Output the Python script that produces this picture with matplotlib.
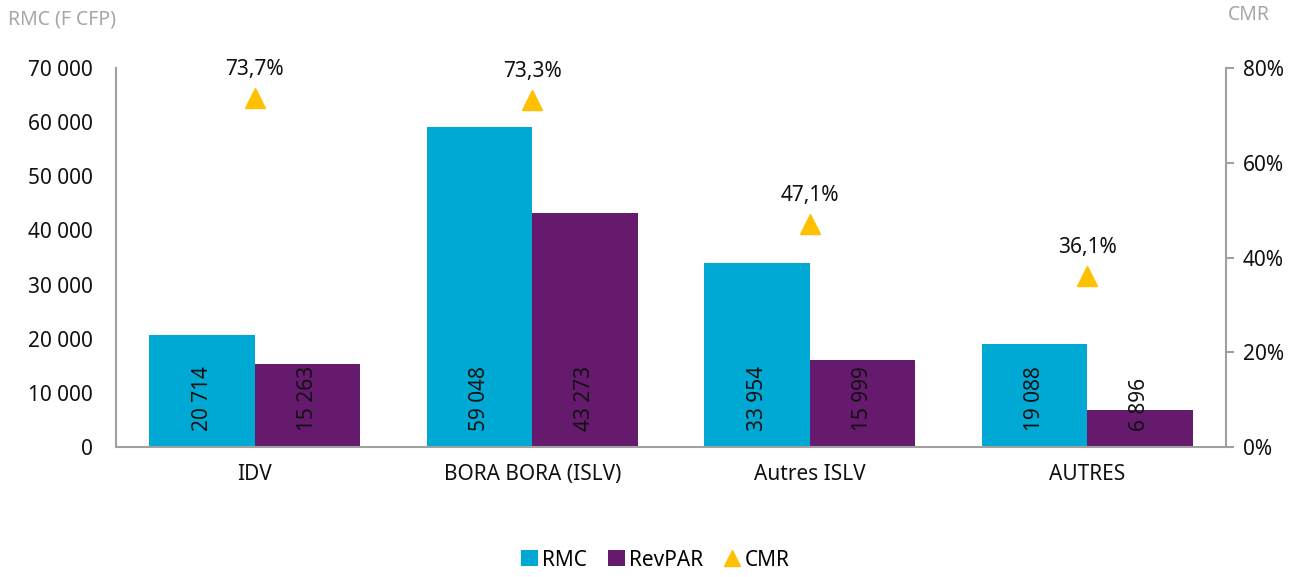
import matplotlib
matplotlib.use("Agg")
import matplotlib.pyplot as plt
import numpy as np
from matplotlib.ticker import FuncFormatter

categories = ["IDV", "BORA BORA (ISLV)", "Autres ISLV", "AUTRES"]
rmc = [20714, 59048, 33954, 19088]
revpar = [15263, 43273, 15999, 6896]
cmr = [73.7, 73.3, 47.1, 36.1]

_RMC = "#00A9D3"
_REV = "#661A6E"
_CMR = "#FFC000"
_AX = "#A0A0A0"
_INK = "#111111"

plt.rcParams["font.family"] = ["Noto Sans", "DejaVu Sans"]


def spaced(v):
    return f"{int(v):,}".replace(",", " ")


fig = plt.figure(figsize=(13.11, 5.77), dpi=100)
ax = fig.add_axes([116 / 1311, 1 - 447 / 577, (1226 - 116) / 1311, (447 - 68) / 577])
x = np.arange(len(categories))
w = 0.38
b1 = ax.bar(x - w / 2, rmc, w, color=_RMC, label="RMC", zorder=2)
b2 = ax.bar(x + w / 2, revpar, w, color=_REV, label="RevPAR", zorder=2)

for bars, vals in ((b1, rmc), (b2, revpar)):
    for r, v in zip(bars, vals):
        ax.text(r.get_x() + r.get_width() / 2, 3000, spaced(v), rotation=90,
                ha="center", va="bottom", fontsize=15, color=_INK, zorder=4)

ax.set_xlim(-0.5, len(categories) - 0.5)
ax.set_ylim(0, 70000)
ax.set_yticks(np.arange(0, 70001, 10000))
ax.yaxis.set_major_formatter(FuncFormatter(lambda v, p: spaced(v)))
ax.set_xticks(x)
ax.set_xticklabels(categories)
ax.tick_params(axis="y", length=0, labelsize=15, pad=17, colors=_INK)
ax.tick_params(axis="x", length=0, labelsize=15, pad=12, colors=_INK)
for s in ("top", "right"):
    ax.spines[s].set_visible(False)
for s in ("left", "bottom"):
    ax.spines[s].set_color(_AX)
    ax.spines[s].set_linewidth(1.5)

ax2 = ax.twinx()
ax2.set_ylim(0, 80)
ax2.set_yticks(np.arange(0, 81, 20))
ax2.yaxis.set_major_formatter(FuncFormatter(lambda v, p: f"{int(v)}%"))
ax2.tick_params(axis="y", length=6, width=1.5, color=_AX, labelsize=15, pad=6, labelcolor=_INK)
for s in ("top", "left", "bottom"):
    ax2.spines[s].set_visible(False)
ax2.spines["right"].set_color(_AX)
ax2.spines["right"].set_linewidth(1.5)
ax2.plot(x, cmr, linestyle="none", marker="^", markersize=15, color=_CMR,
         label="CMR", zorder=5)
for xi, c in zip(x, cmr):
    ax2.annotate(f"{c:.1f}%".replace(".", ","), (xi, c), xytext=(0, 13),
                 textcoords="offset points", ha="center", va="bottom",
                 fontsize=15, color=_INK)

fig.text(8 / 1311, 1 - 20 / 577, "RMC (F CFP)", fontsize=14, color="#A6A6A6",
         ha="left", va="center")
fig.text(1249 / 1311, 1 - 15 / 577, "CMR", fontsize=14, color="#A6A6A6",
         ha="center", va="center")

h1, l1 = ax.get_legend_handles_labels()
h2, l2 = ax2.get_legend_handles_labels()
fig.legend(h1 + h2, l1 + l2, loc="center", bbox_to_anchor=(0.5, 1 - 560 / 577),
           ncol=3, frameon=False, fontsize=15, handlelength=0.8, handleheight=0.8,
           handletextpad=0.2, columnspacing=1.0, markerscale=0.8)

fig.savefig("out.png", dpi=100, facecolor="white")
